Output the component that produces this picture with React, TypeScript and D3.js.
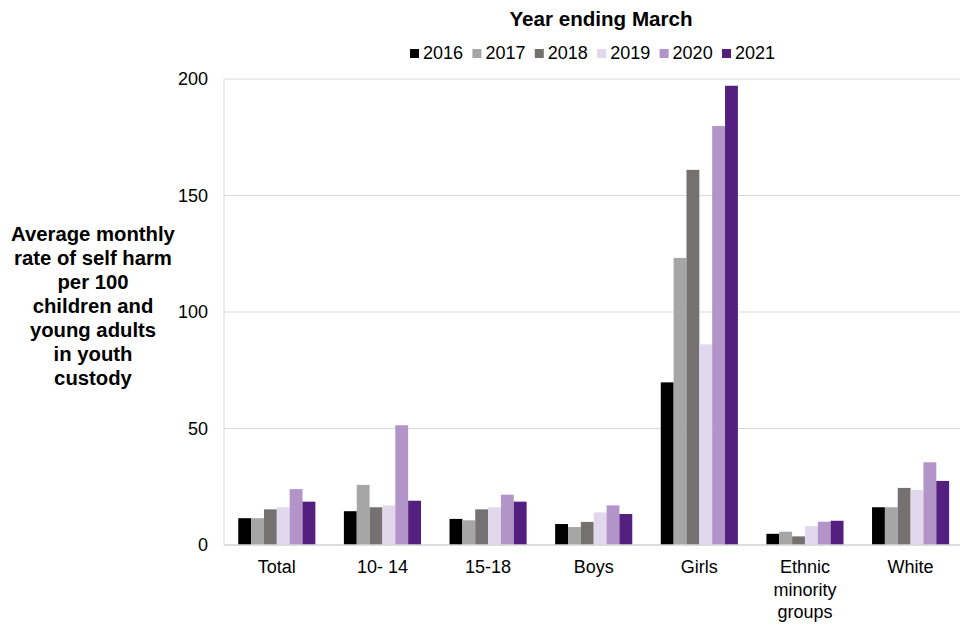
import React from "react";
import * as d3 from "d3";

const categories = ["Total", "10- 14", "15-18", "Boys", "Girls", "Ethnic minority groups", "White"];
const categoryLines = [["Total"], ["10- 14"], ["15-18"], ["Boys"], ["Girls"], ["Ethnic", "minority", "groups"], ["White"]];
const years = ["2016", "2017", "2018", "2019", "2020", "2021"];
const colors = ["#000000", "#a6a6a6", "#767171", "#e1d8ed", "#b294c8", "#53207f"];

const v2016 = [11.5, 14.5, 11.2, 9.0, 69.8, 4.8, 16.2];
const v2017 = [11.5, 25.8, 10.6, 7.7, 123.2, 5.7, 16.2];
const v2018 = [15.3, 16.2, 15.3, 9.9, 161.0, 3.7, 24.5];
const v2019 = [16.2, 17.0, 16.2, 14.0, 86.1, 8.1, 23.6];
const v2020 = [24.0, 51.4, 21.6, 17.0, 179.8, 10.0, 35.5];
const v2021 = [18.6, 19.0, 18.6, 13.3, 197.1, 10.4, 27.5];
const series = [v2016, v2017, v2018, v2019, v2020, v2021];

const yTicks = [0, 50, 100, 150, 200];
const yTitle = ["Average monthly", "rate of self harm", "per 100", "children and", "young adults", "in youth", "custody"];

export default function App() {
  const W = 960, H = 640;
  const left = 224, right = 224 + 105.63 * 7, top = 79, bottom = 545;
  const x0 = d3.scaleBand<string>().domain(categories).range([left, right]).paddingInner(0.27).paddingOuter(0.135);
  const x1 = d3.scaleBand<string>().domain(years).range([0, x0.bandwidth()]).padding(0);
  const y = d3.scaleLinear().domain([0, 200]).range([bottom, top]);
  const font = "'Liberation Sans', Arial, sans-serif";
  const legendStart = 410, legendStep = 62.4;

  return (
    <svg width={W} height={H} style={{ position: "absolute", left: 0, top: 0, background: "#fff" }} fontFamily={font}>
      <rect x={0} y={0} width={W} height={H} fill="#fff" />
      {yTicks.map((t) => (
        <g key={t}>
          <line x1={left} x2={W} y1={y(t)} y2={y(t)} stroke="#d9d9d9" strokeWidth={1} />
          <text x={208} y={y(t)} dy="0.35em" textAnchor="end" fontSize={18} fill="#000">{t}</text>
        </g>
      ))}
      <line x1={left} x2={left} y1={top} y2={bottom} stroke="#d9d9d9" strokeWidth={1} />
      {categories.map((c, ci) => (
        <g key={c} transform={`translate(${x0(c)},0)`}>
          {years.map((yr, si) => (
            <rect key={yr} x={x1(yr)} y={y(series[si][ci])} width={x1.bandwidth()} height={y(0) - y(series[si][ci])} fill={colors[si]} />
          ))}
        </g>
      ))}
      <line x1={left} x2={W} y1={bottom} y2={bottom} stroke="#d9d9d9" strokeWidth={1.5} />
      {categories.map((c, ci) => (
        <text key={c} x={(x0(c) as number) + x0.bandwidth() / 2} y={573} textAnchor="middle" fontSize={18} fill="#000">
          {categoryLines[ci].map((l, li) => (
            <tspan key={li} x={(x0(c) as number) + x0.bandwidth() / 2} dy={li === 0 ? 0 : 22.5}>{l}</tspan>
          ))}
        </text>
      ))}
      <text x={93} y={241} textAnchor="middle" fontSize={20.3} fontWeight="bold" fill="#000">
        {yTitle.map((l, i) => (
          <tspan key={i} x={93} dy={i === 0 ? 0 : 24}>{l}</tspan>
        ))}
      </text>
      <text x={601} y={26} textAnchor="middle" fontSize={20.6} fontWeight="bold" fill="#000">Year ending March</text>
      {years.map((yr, i) => (
        <g key={yr} transform={`translate(${legendStart + i * legendStep},0)`}>
          <rect x={0} y={49} width={9} height={9} fill={colors[i]} />
          <text x={13} y={58.5} fontSize={18} fill="#000">{yr}</text>
        </g>
      ))}
    </svg>
  );
}
